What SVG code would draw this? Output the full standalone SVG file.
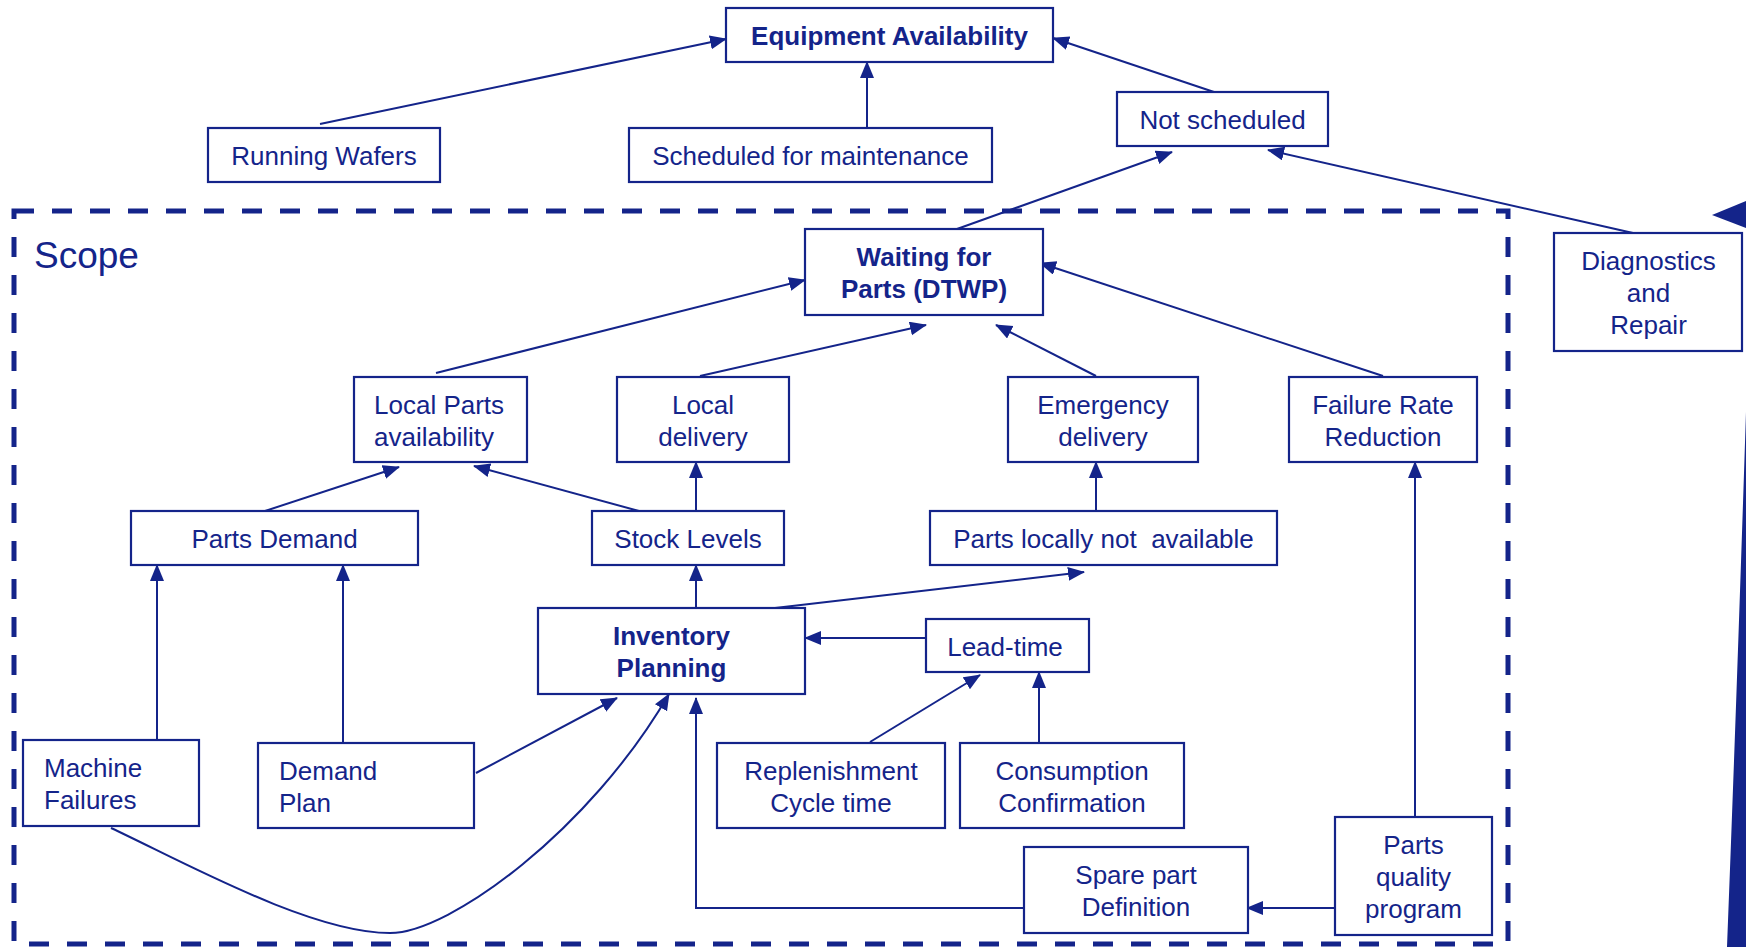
<svg xmlns="http://www.w3.org/2000/svg" width="1746" height="947" viewBox="0 0 1746 947">
<style>
.box{fill:#fff;stroke:#14248a;stroke-width:2.2}
.t{font-family:"Liberation Sans",Arial,sans-serif;font-size:26px;fill:#14248a;text-anchor:middle}
.l{text-anchor:start}
.b{font-weight:bold}
.c{fill:none;stroke:#14248a;stroke-width:2}
</style>
<defs>
<marker id="ah" markerUnits="userSpaceOnUse" markerWidth="18" markerHeight="15" refX="16" refY="7" orient="auto">
<path d="M0,0 L17,7 L0,14 z" fill="#14248a"/>
</marker>
</defs>
<rect width="1746" height="947" fill="#fff"/>
<g id="scope">
<rect x="14" y="211" width="1494" height="733" fill="none" stroke="#14248a" stroke-width="5" stroke-dasharray="20 18"/>
<text x="34" y="268" class="t l" style="font-size:37px">Scope</text>
</g>
<g id="edge-shape" fill="#14248a">
<path d="M1712,215 L1746,201 L1746,228 z"/>
<path d="M1746,412 Q1737,690 1727,947 L1746,947 z"/>
</g>
<g id="connectors" class="c" marker-end="url(#ah)">
<path class="c" d="M320,124 L726,39"/>
<path class="c" d="M867,128 L867,62"/>
<path class="c" d="M1214,92 L1053,38"/>
<path class="c" d="M957,229 L1172,152"/>
<path class="c" d="M1633,233 L1268,150"/>
<path class="c" d="M436,373 L805,280"/>
<path class="c" d="M700,376 L926,325"/>
<path class="c" d="M1096,376 L996,325"/>
<path class="c" d="M1383,376 L1040,263"/>
<path class="c" d="M265,511 L399,467"/>
<path class="c" d="M639,511 L474,466"/>
<path class="c" d="M696,511 L696,462"/>
<path class="c" d="M1096,511 L1096,462"/>
<path class="c" d="M696,608 L696,565"/>
<path class="c" d="M775,608 L1084,572"/>
<path class="c" d="M930,638 L805,638"/>
<path class="c" d="M870,742 L980,675"/>
<path class="c" d="M1039,743 L1039,672"/>
<path class="c" d="M157,740 L157,565"/>
<path class="c" d="M343,743 L343,565"/>
<path class="c" d="M476,773 L617,698"/>
<path class="c" d="M111,828 C180,860 310,933 390,933 C450,933 590,830 669,694"/>
<path class="c" d="M1024,908 L696,908 L696,698"/>
<path class="c" d="M1335,908 L1247,908"/>
<path class="c" d="M1415,817 L1415,462"/>
</g>
<g id="equipment-availability"><rect class="box" x="726" y="8" width="327" height="54"/><text class="t b" x="889.5" y="45">Equipment Availability</text></g>
<g id="running-wafers"><rect class="box" x="208" y="128" width="232" height="54"/><text class="t" x="324" y="165">Running Wafers</text></g>
<g id="scheduled-maintenance"><rect class="box" x="629" y="128" width="363" height="54"/><text class="t" x="810.5" y="165">Scheduled for maintenance</text></g>
<g id="not-scheduled"><rect class="box" x="1117" y="92" width="211" height="54"/><text class="t" x="1222.5" y="129">Not scheduled</text></g>
<g id="waiting-for-parts"><rect class="box" x="805" y="229" width="238" height="86"/><text class="t b" x="924" y="266">Waiting for</text><text class="t b" x="924" y="298">Parts (DTWP)</text></g>
<g id="diagnostics-repair"><rect class="box" x="1554" y="233" width="188" height="118"/><text class="t" x="1648.5" y="270">Diagnostics</text><text class="t" x="1648.5" y="302">and</text><text class="t" x="1648.5" y="334">Repair</text></g>
<g id="local-parts-availability"><rect class="box" x="354" y="377" width="173" height="85"/><text class="t l" x="374" y="413.5">Local Parts</text><text class="t l" x="374" y="445.5">availability</text></g>
<g id="local-delivery"><rect class="box" x="617" y="377" width="172" height="85"/><text class="t" x="703" y="413.5">Local</text><text class="t" x="703" y="445.5">delivery</text></g>
<g id="emergency-delivery"><rect class="box" x="1008" y="377" width="190" height="85"/><text class="t" x="1103" y="413.5">Emergency</text><text class="t" x="1103" y="445.5">delivery</text></g>
<g id="failure-rate-reduction"><rect class="box" x="1289" y="377" width="188" height="85"/><text class="t" x="1383" y="413.5">Failure Rate</text><text class="t" x="1383" y="445.5">Reduction</text></g>
<g id="parts-demand"><rect class="box" x="131" y="511" width="287" height="54"/><text class="t" x="274.5" y="548">Parts Demand</text></g>
<g id="stock-levels"><rect class="box" x="592" y="511" width="192" height="54"/><text class="t" x="688" y="548">Stock Levels</text></g>
<g id="parts-locally-not-available"><rect class="box" x="930" y="511" width="347" height="54"/><text class="t" x="1103.5" y="548" xml:space="preserve">Parts locally not  available</text></g>
<g id="inventory-planning"><rect class="box" x="538" y="608" width="267" height="86"/><text class="t b" x="671.5" y="645">Inventory</text><text class="t b" x="671.5" y="677">Planning</text></g>
<g id="lead-time"><rect class="box" x="926" y="619" width="163" height="53"/><text class="t" x="1005" y="656">Lead-time</text></g>
<g id="machine-failures"><rect class="box" x="23" y="740" width="176" height="86"/><text class="t l" x="44" y="777">Machine</text><text class="t l" x="44" y="809">Failures</text></g>
<g id="demand-plan"><rect class="box" x="258" y="743" width="216" height="85"/><text class="t l" x="279" y="779.5">Demand</text><text class="t l" x="279" y="811.5">Plan</text></g>
<g id="replenishment-cycle-time"><rect class="box" x="717" y="743" width="228" height="85"/><text class="t" x="831" y="779.5">Replenishment</text><text class="t" x="831" y="811.5">Cycle time</text></g>
<g id="consumption-confirmation"><rect class="box" x="960" y="743" width="224" height="85"/><text class="t" x="1072" y="779.5">Consumption</text><text class="t" x="1072" y="811.5">Confirmation</text></g>
<g id="spare-part-definition"><rect class="box" x="1024" y="847" width="224" height="86"/><text class="t" x="1136" y="884">Spare part</text><text class="t" x="1136" y="916">Definition</text></g>
<g id="parts-quality-program"><rect class="box" x="1335" y="817" width="157" height="118"/><text class="t" x="1413.5" y="854">Parts</text><text class="t" x="1413.5" y="886">quality</text><text class="t" x="1413.5" y="918">program</text></g>
</svg>
